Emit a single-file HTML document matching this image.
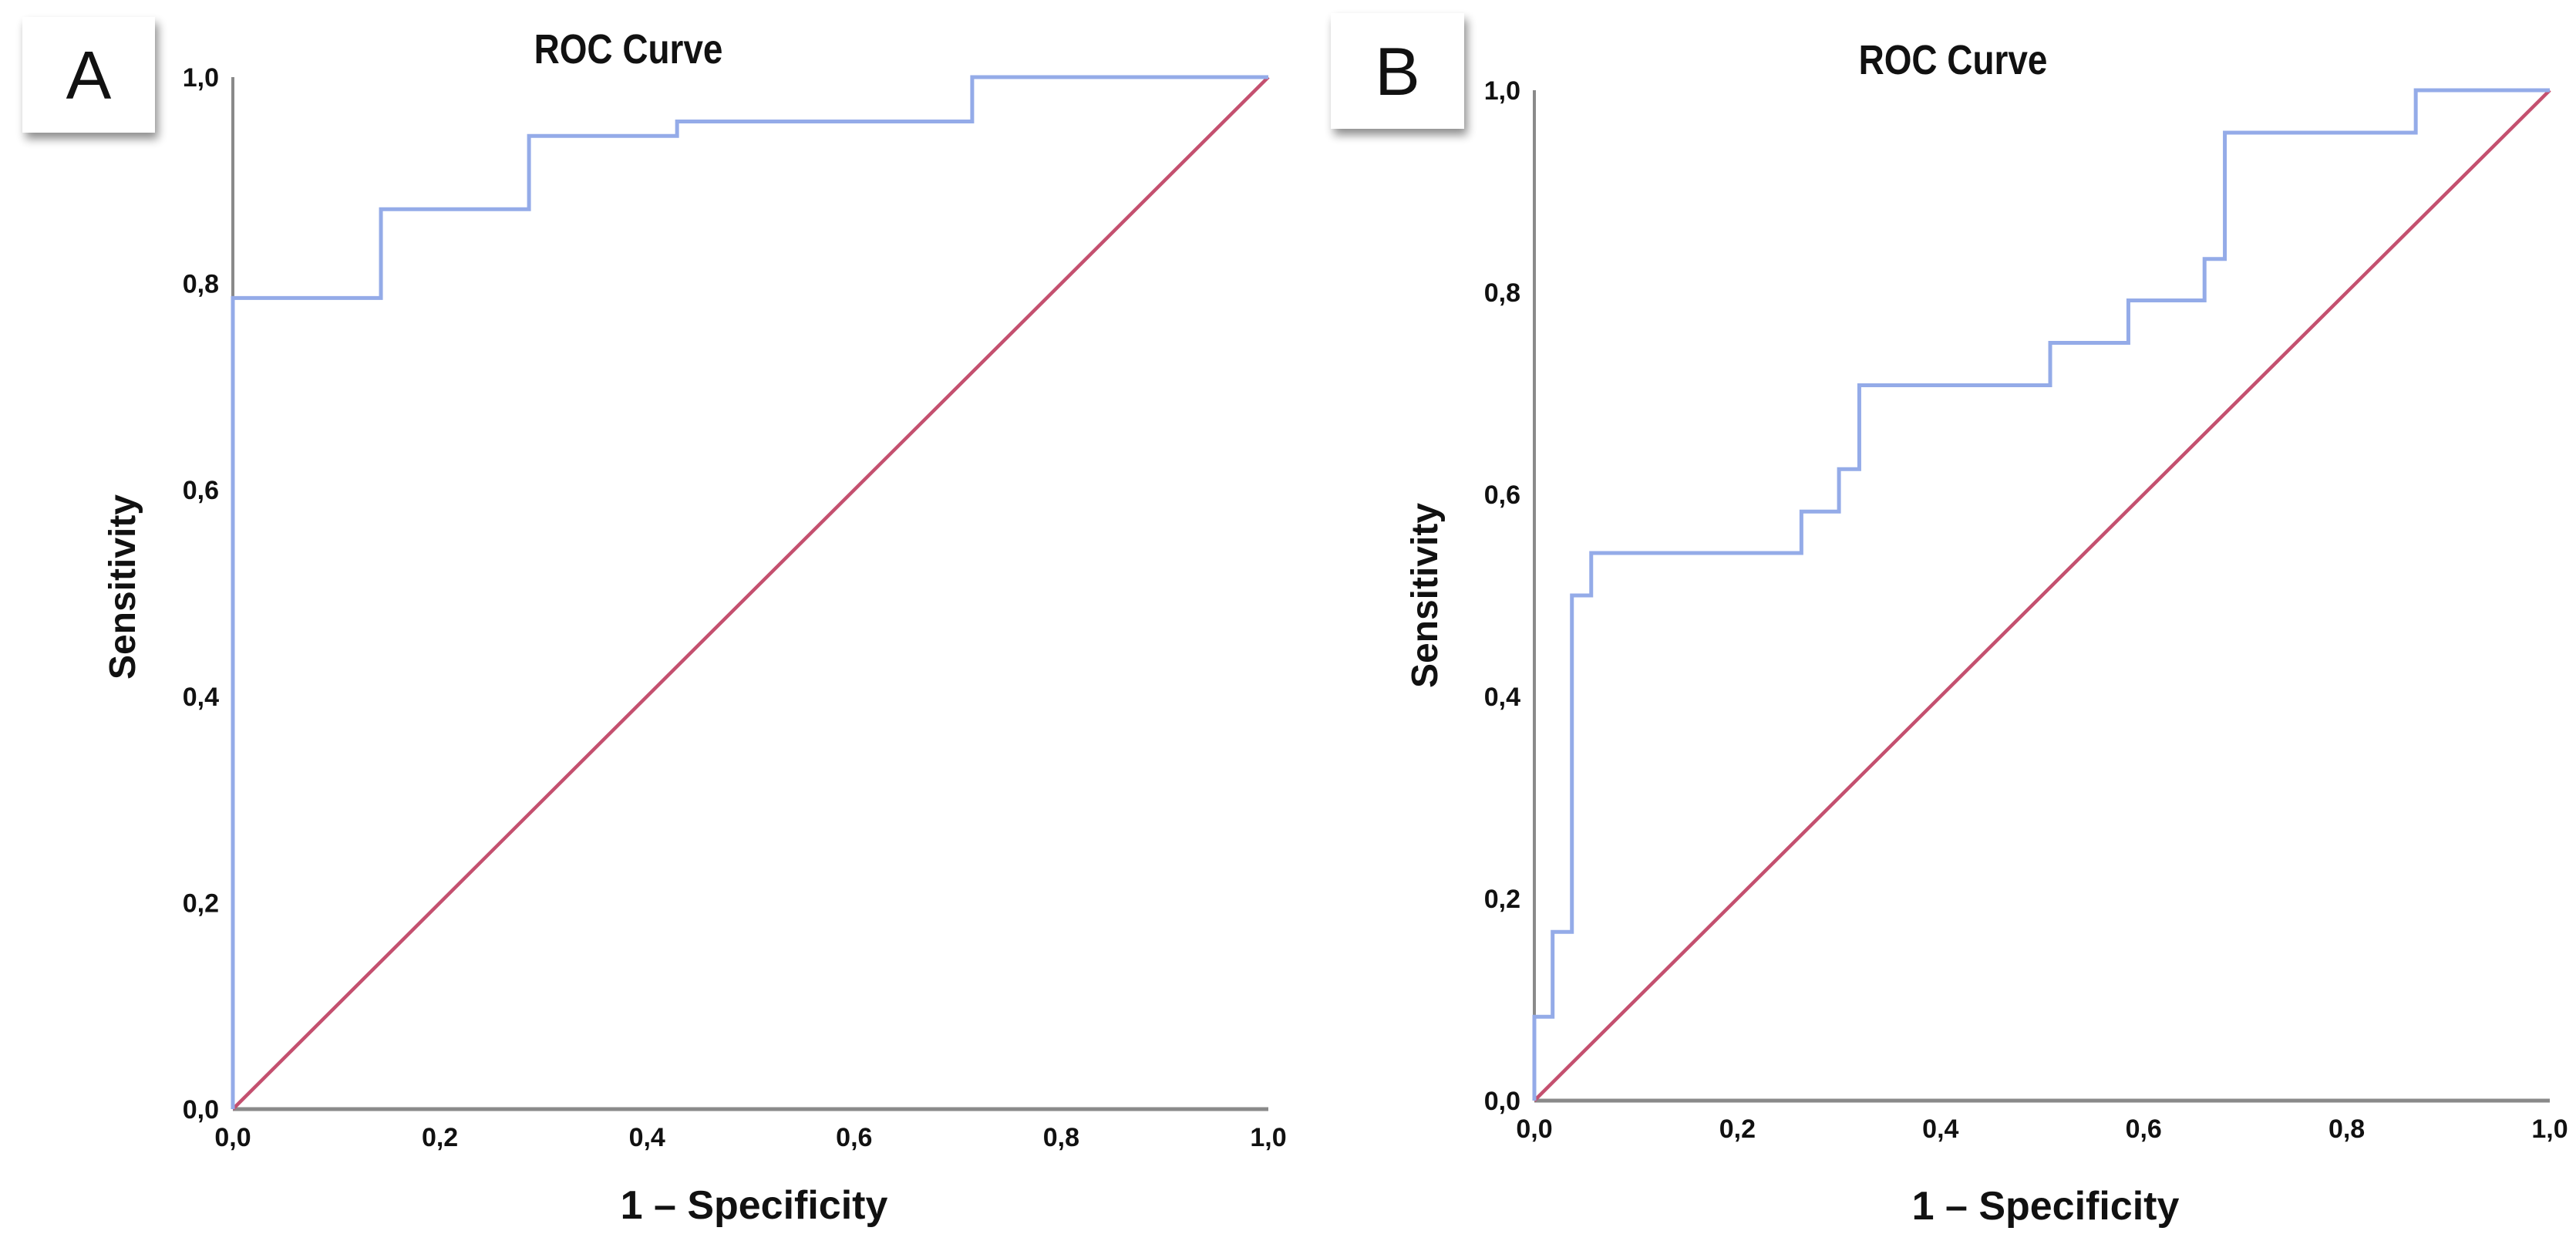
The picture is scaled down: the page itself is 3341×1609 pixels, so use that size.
<!DOCTYPE html>
<html><head><meta charset="utf-8">
<style>
html,body{margin:0;padding:0;background:#fff;}
svg{display:block;}
text{font-family:"Liberation Sans",sans-serif;fill:#111;}
</style></head>
<body>
<svg id="chart" width="3341" height="1609" viewBox="0 0 3341 1609" xmlns="http://www.w3.org/2000/svg">
<defs>
<filter id="sh" x="-20%" y="-20%" width="150%" height="150%">
<feGaussianBlur in="SourceAlpha" stdDeviation="6"/>
<feOffset dx="4" dy="8" result="o"/>
<feComponentTransfer><feFuncA type="linear" slope="0.45"/></feComponentTransfer>
<feMerge><feMergeNode/><feMergeNode in="SourceGraphic"/></feMerge>
</filter>
</defs>
</svg>
<script>
// Panel A data
const fprA = [0, 0, 0.143, 0.143, 0.286, 0.286, 0.429, 0.429, 0.714, 0.714, 1.0];
const tprA = [0, 0.786, 0.786, 0.872, 0.872, 0.943, 0.943, 0.957, 0.957, 1.0, 1.0];
// Panel B data
const fprB = [0, 0, 0.018, 0.018, 0.037, 0.037, 0.056, 0.056, 0.263, 0.263, 0.30, 0.30, 0.32, 0.32, 0.508, 0.508, 0.585, 0.585, 0.66, 0.66, 0.68, 0.68, 0.868, 0.868, 1.0];
const tprB = [0, 0.083, 0.083, 0.167, 0.167, 0.50, 0.50, 0.542, 0.542, 0.583, 0.583, 0.625, 0.625, 0.708, 0.708, 0.75, 0.75, 0.792, 0.792, 0.833, 0.833, 0.958, 0.958, 1.0, 1.0];
const refX = [0, 1];
const refY = [0, 1];
const tickVals = [0, 0.2, 0.4, 0.6, 0.8, 1.0];
const tickLabels = ["0,0", "0,2", "0,4", "0,6", "0,8", "1,0"];

const svg = document.getElementById('chart');
const NS = 'http://www.w3.org/2000/svg';
function mk(tag, attrs, parent){
  const e = document.createElementNS(NS, tag);
  for (const k in attrs) e.setAttribute(k, attrs[k]);
  (parent||svg).appendChild(e);
  return e;
}

function panel(p){
  const g = mk('g', {});
  
  
  const sx = v => p.x0 + v * (p.x1 - p.x0);
  const sy = v => p.y0 - v * (p.y0 - p.y1);

  const box = mk('rect', {x:p.bx, y:p.by, width:p.bw, height:p.bh, fill:'#fff', filter:'url(#sh)'}, g);
  
  
  const lt = mk('text', {x:p.bx + p.bw/2, y:p.by + p.bh/2 + 31, 'text-anchor':'middle', 'font-size':88}, g);
  lt.textContent = p.id;
  
  

  const t = mk('text', {x:p.tx, y:p.ty, 'text-anchor':'middle', 'font-size':54, 'font-weight':'bold', transform:'translate('+p.tx+','+p.ty+') scale(0.85,1) translate('+(-p.tx)+','+(-p.ty)+')'}, g);
  t.textContent = 'ROC Curve';
  
  

  const ya = mk('line', {x1:p.x0, y1:p.y1, x2:p.x0, y2:p.y0, stroke:'#8a8a8a', 'stroke-width':4}, g);
  
  
  const xa = mk('line', {x1:p.x0, y1:p.y0, x2:p.x1, y2:p.y0, stroke:'#8a8a8a', 'stroke-width':5}, g);
  
  

  tickVals.forEach((v, i) => {
    const yl = mk('text', {x:p.x0 - 18, y:sy(v) + 12, 'text-anchor':'end', 'font-size':34, 'font-weight':'bold'}, g);
    yl.textContent = tickLabels[i];
    
    
    const xl = mk('text', {x:sx(v), y:p.y0 + 48, 'text-anchor':'middle', 'font-size':34, 'font-weight':'bold'}, g);
    xl.textContent = tickLabels[i];
    
    
  });

  const xt = mk('text', {x:p.xtx, y:p.xty, 'text-anchor':'middle', 'font-size':52, 'font-weight':'bold'}, g);
  xt.textContent = '1 – Specificity';
  
  
  const yt = mk('text', {x:0, y:0, 'text-anchor':'middle', 'font-size':48, 'font-weight':'bold', transform:'translate('+(p.ytx+17)+','+p.yty+') rotate(-90)'}, g);
  yt.textContent = 'Sensitivity';
  
  

  const rl = mk('polyline', {points: refX.map((v,i)=>sx(v)+','+sy(refY[i])).join(' '), fill:'none', stroke:'#c4506f', 'stroke-width':4.5}, g);
  
  

  const rc = mk('polyline', {points: p.fx.map((v,i)=>sx(v)+','+sy(p.ty2[i])).join(' '), fill:'none', stroke:'#94abe8', 'stroke-width':5}, g);
  
  
}

panel({id:'A', x0:302, x1:1645, y0:1438, y1:100, fx:fprA, ty2:tprA,
  bx:29, by:22, bw:172, bh:150, tx:815, ty:82, xtx:978, xty:1580, ytx:158, yty:761});
panel({id:'B', x0:1990, x1:3307, y0:1427, y1:117, fx:fprB, ty2:tprB,
  bx:1726, by:17, bw:173, bh:150, tx:2533, ty:96, xtx:2653, xty:1581, ytx:1847, yty:772});
</script>
</body></html>
